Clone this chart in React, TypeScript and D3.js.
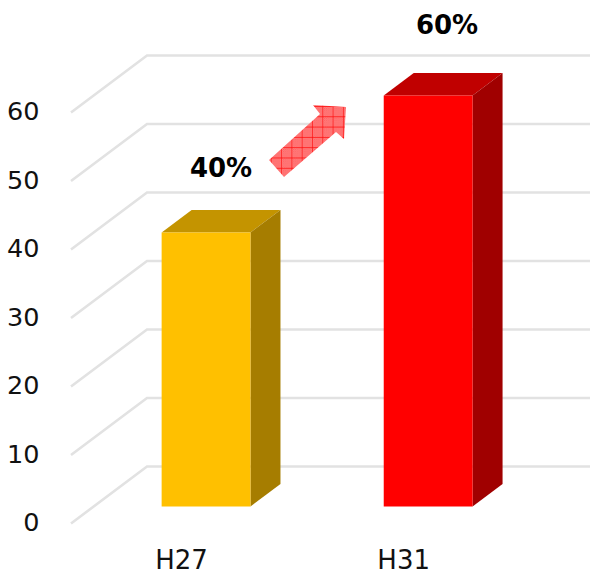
import React from "react";
import * as d3 from "d3";

const categories = ["H27", "H31"];
const values = [40, 60];
const percentLabels = ["40%", "60%"];
const yTicks = [0, 10, 20, 30, 40, 50, 60];
const frontColors = ["#FFC000", "#FF0000"];
const topColors = ["#C49400", "#C00000"];
const sideColors = ["#A67D00", "#A00000"];

const W = 590, H = 574;
const FONT = "'DejaVu Sans', Verdana, sans-serif";
// front-left edge of the 3D floor
const y = d3.scaleLinear().domain([0, 60]).range([523.5, 112.5]);
const x = d3.scaleBand().domain(categories).range([95, 539.2]).paddingInner(0.6).paddingOuter(0.3);
const wallDx = 76, wallDy = -57;
const barLift = 17;
const depthDx = 30, depthDy = -22.5;
const labelPos = [[221, 168], [447, 25]];
const arrow = d3.line()([[269, 160], [284, 177], [336, 132], [344, 139], [346, 107], [313, 105], [320, 114]]);

export default function App() {
  return (
    <svg width={W} height={H} viewBox={`0 0 ${W} ${H}`} style={{ position: "absolute", left: 0, top: 0, background: "#fff" }} fontFamily={FONT}>
      <defs>
        <pattern id="fine" width="2" height="2" patternUnits="userSpaceOnUse">
          <rect width="2" height="2" fill="#FF8C8C" />
          <rect width="1" height="1" fill="#FF5A5A" />
          <rect x="1" y="1" width="1" height="1" fill="#FF5A5A" />
        </pattern>
        <pattern id="grid" x="3" y="3" width="10.3" height="10.3" patternUnits="userSpaceOnUse">
          <rect width="10.3" height="10.3" fill="url(#fine)" />
          <path d="M0 0V10.3M0 0H10.3" stroke="#FF0808" strokeWidth="1.2" />
        </pattern>
      </defs>
      {yTicks.map((t) => {
        const p = d3.path();
        p.moveTo(71, y(t));
        p.lineTo(71 + wallDx, y(t) + wallDy);
        p.lineTo(W, y(t) + wallDy);
        return (
          <g key={t}>
            <path d={p.toString()} fill="none" stroke="#E2E2E2" strokeWidth={2.6} />
            <text x={39.5} y={y(t) + 7.5} textAnchor="end" fontSize={25.5} fill="#111">{t}</text>
          </g>
        );
      })}
      {categories.map((c, i) => {
        const x0 = x(c)!, bw = x.bandwidth();
        const yb = y(0) - barLift;
        const yt = y(values[i]) - barLift;
        const x1 = x0 + bw;
        return (
          <g key={c}>
            <polygon points={`${x0},${yt} ${x0 + depthDx},${yt + depthDy} ${x1 + depthDx},${yt + depthDy} ${x1},${yt}`} fill={topColors[i]} />
            <polygon points={`${x1},${yt} ${x1 + depthDx},${yt + depthDy} ${x1 + depthDx},${yb + depthDy} ${x1},${yb}`} fill={sideColors[i]} />
            <rect x={x0} y={yt} width={bw} height={yb - yt} fill={frontColors[i]} />
            <text x={x0 + bw / 2 - 24.5} y={569} textAnchor="middle" fontSize={26} fill="#111">{c}</text>
            <text x={labelPos[i][0]} y={labelPos[i][1] + 9} textAnchor="middle" fontSize={26} fontWeight="bold" fill="#000">{percentLabels[i]}</text>
          </g>
        );
      })}
      <path d={arrow + "Z"} fill="url(#grid)" />
    </svg>
  );
}
